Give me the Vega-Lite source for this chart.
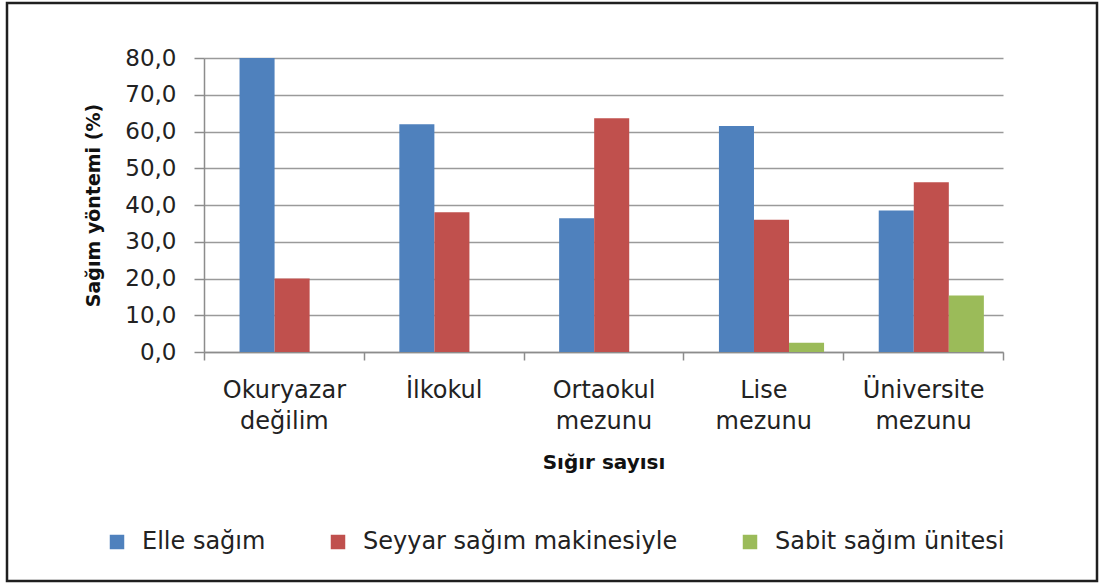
{
  "$schema": "https://vega.github.io/schema/vega-lite/v6.json",
  "width": 1090,
  "height": 578,
  "autosize": {"type": "none"},
  "padding": {"left": 7, "top": 3, "right": 10, "bottom": 4},
  "background": "white",
  "config": {
    "font": "DejaVu Sans",
    "view": {"stroke": "#1f1f1f", "strokeWidth": 2.5},
    "axis": {"labelColor": "#222222", "titleColor": "#111111", "domainColor": "#8c8c8c", "tickColor": "#8c8c8c", "domainWidth": 1.5, "tickWidth": 1.5}
  },
  "data": {
    "values": [
      {"education": "Okuryazar değilim", "method": "Elle sağım", "percent": 80.0},
      {"education": "Okuryazar değilim", "method": "Seyyar sağım makinesiyle", "percent": 20.0},
      {"education": "Okuryazar değilim", "method": "Sabit sağım ünitesi", "percent": 0.0},
      {"education": "İlkokul", "method": "Elle sağım", "percent": 62.0},
      {"education": "İlkokul", "method": "Seyyar sağım makinesiyle", "percent": 38.0},
      {"education": "İlkokul", "method": "Sabit sağım ünitesi", "percent": 0.0},
      {"education": "Ortaokul mezunu", "method": "Elle sağım", "percent": 36.4},
      {"education": "Ortaokul mezunu", "method": "Seyyar sağım makinesiyle", "percent": 63.6},
      {"education": "Ortaokul mezunu", "method": "Sabit sağım ünitesi", "percent": 0.0},
      {"education": "Lise mezunu", "method": "Elle sağım", "percent": 61.5},
      {"education": "Lise mezunu", "method": "Seyyar sağım makinesiyle", "percent": 36.0},
      {"education": "Lise mezunu", "method": "Sabit sağım ünitesi", "percent": 2.5},
      {"education": "Üniversite mezunu", "method": "Elle sağım", "percent": 38.5},
      {"education": "Üniversite mezunu", "method": "Seyyar sağım makinesiyle", "percent": 46.2},
      {"education": "Üniversite mezunu", "method": "Sabit sağım ünitesi", "percent": 15.4}
    ]
  },
  "mark": {"type": "bar"},
  "encoding": {
    "x": {
      "field": "education",
      "type": "nominal",
      "sort": ["Okuryazar değilim", "İlkokul", "Ortaokul mezunu", "Lise mezunu", "Üniversite mezunu"],
      "scale": {"range": [197, 996], "paddingInner": 0, "paddingOuter": 0},
      "axis": {
        "title": "Sığır sayısı",
        "titleFontSize": 20,
        "titleFontWeight": "bold",
        "titlePadding": 19,
        "labelFontSize": 24,
        "labelAngle": 0,
        "labelExpr": "split(datum.label, ' ')",
        "labelLineHeight": 31,
        "tickBand": "extent",
        "tickSize": 8,
        "labelPadding": 18,
        "offset": -229,
        "grid": false
      }
    },
    "xOffset": {
      "field": "method",
      "type": "nominal",
      "sort": ["Elle sağım", "Seyyar sağım makinesiyle", "Sabit sağım ünitesi"],
      "scale": {"paddingInner": 0, "paddingOuter": 0.78, "align": 0.65}
    },
    "y": {
      "field": "percent",
      "type": "quantitative",
      "scale": {"domain": [0, 80], "range": [349, 55], "nice": false},
      "axis": {
        "title": "Sağım yöntemi (%)",
        "titleFontSize": 19,
        "titleFontWeight": "bold",
        "titlePadding": 21,
        "values": [0, 10, 20, 30, 40, 50, 60, 70, 80],
        "labelExpr": "replace(format(datum.value, '.1f'), '.', ',')",
        "labelFontSize": 23,
        "tickSize": 10,
        "labelPadding": 18,
        "offset": -197,
        "grid": true,
        "gridColor": "#9a9a9a",
        "gridWidth": 1.5
      }
    },
    "color": {
      "field": "method",
      "type": "nominal",
      "sort": ["Elle sağım", "Seyyar sağım makinesiyle", "Sabit sağım ünitesi"],
      "scale": {"domain": ["Elle sağım", "Seyyar sağım makinesiyle", "Sabit sağım ünitesi"], "range": ["#4F81BD", "#C0504D", "#9BBB59"]},
      "legend": {
        "title": null,
        "orient": "none",
        "legendX": 98,
        "legendY": 527,
        "direction": "horizontal",
        "symbolType": "square",
        "symbolSize": 210,
        "symbolStrokeWidth": 0,
        "labelFontSize": 24,
        "labelColor": "#222222",
        "labelOffset": 13,
        "columnPadding": 60,
        "padding": 0,
        "labelLimit": 400
      }
    }
  }
}
